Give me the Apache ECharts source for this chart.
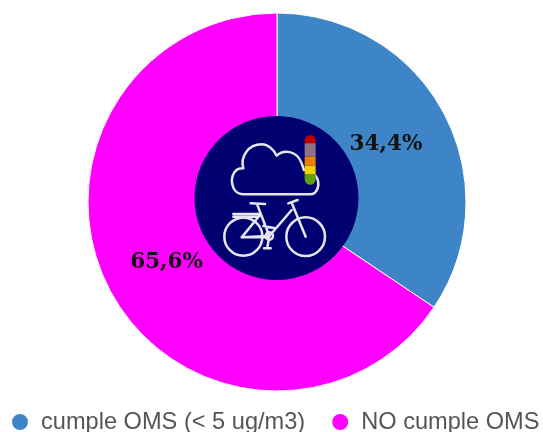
<!DOCTYPE html>
<html><head><meta charset="utf-8">
<style>html,body{margin:0;padding:0;background:#fff}#c{width:543px;height:432px}</style>
<script src="https://cdn.jsdelivr.net/npm/echarts@6/dist/echarts.min.js"></script></head>
<body><div id="c"></div>
<script>
const categories = ['cumple OMS (< 5 ug/m3)', 'NO cumple OMS'];
const values = [34.4, 65.6];
const colors = ['#3d85c6', '#ff00ff'];
const labels = ['34,4%', '65,6%'];
const labelOffsets = [[-4, 3], [2.5, 0]];
const iconSvg = `<svg xmlns="http://www.w3.org/2000/svg" width="180" height="180" viewBox="0 0 540 540">
<defs><filter id="b" x="-5%" y="-5%" width="110%" height="110%"><feGaussianBlur stdDeviation="1.5"/></filter></defs>
<g filter="url(#b)">
<g fill="none" stroke="#e6e6f0" stroke-width="7.5" stroke-linecap="round" stroke-linejoin="round">
<path d="M372 210 L365 190 C350 150 310 148 290 167 C282 150 265 133 245 133 C205 133 180 170 190 205 C184 205 178 205 172 208 C145 225 152 283 190 283 L390 283 C412 283 425 250 405 225"/>
<circle cx="190" cy="410" r="57"/><circle cx="377" cy="410" r="58"/><circle cx="268" cy="408" r="11"/>
<path d="M232 315 L268 408 L185 412 L240 345 M185 412 L268 412 M212 310 L255 312 M160 342 L236 342 M160 350 L236 350 M268 408 L335 330 M325 310 L353 300 M335 308 L377 410 M268 408 L262 442 M252 445 L272 445 M250 378 L285 385"/>
</g>
<rect x="374" y="106" width="33" height="34" rx="15" fill="#c00000"/>
<rect x="374" y="130" width="33" height="40" fill="#8e7088"/>
<rect x="374" y="170" width="33" height="27" fill="#f08000"/>
<rect x="374" y="197" width="33" height="25" fill="#f0d000"/>
<path d="M374 222 H407 V238 A16.500 16.500 0 0 1 374 238 Z" fill="#60a010"/>
</g>
</svg>`;
const chart = echarts.init(document.getElementById('c'), null, {renderer:'canvas'});
chart.setOption({
  animation:false,
  legend:{data:categories, left:10, top:410, width:620, padding:0, itemWidth:18, itemHeight:18, itemGap:25, icon:'circle',
    textStyle:{fontFamily:'Liberation Sans', fontSize:23.6, color:'#555', padding:[0,0,0,7]}},
  series:[{type:'pie', center:[277,202], radius:[61,189], startAngle:90, clockwise:true, silent:true,
    data:categories.map((n,i)=>({name:n, value:values[i], itemStyle:{color:colors[i]},
      label:{formatter:labels[i], offset:labelOffsets[i]}})),
    itemStyle:{borderColor:'#fff', borderWidth:1},
    label:{show:true, position:'inside', fontFamily:'DejaVu Serif', fontWeight:'bold', fontSize:21.5, color:'#111'},
    labelLine:{show:false}}],
  graphic:{elements:[
    {type:'circle', z:10, shape:{cx:276.5,cy:198,r:82}, style:{fill:'#000070'}},
    {type:'image', z:11, style:{image:'data:image/svg+xml;charset=utf-8,'+encodeURIComponent(iconSvg), x:180, y:100, width:180, height:180}}
  ]}
});
</script></body></html>
